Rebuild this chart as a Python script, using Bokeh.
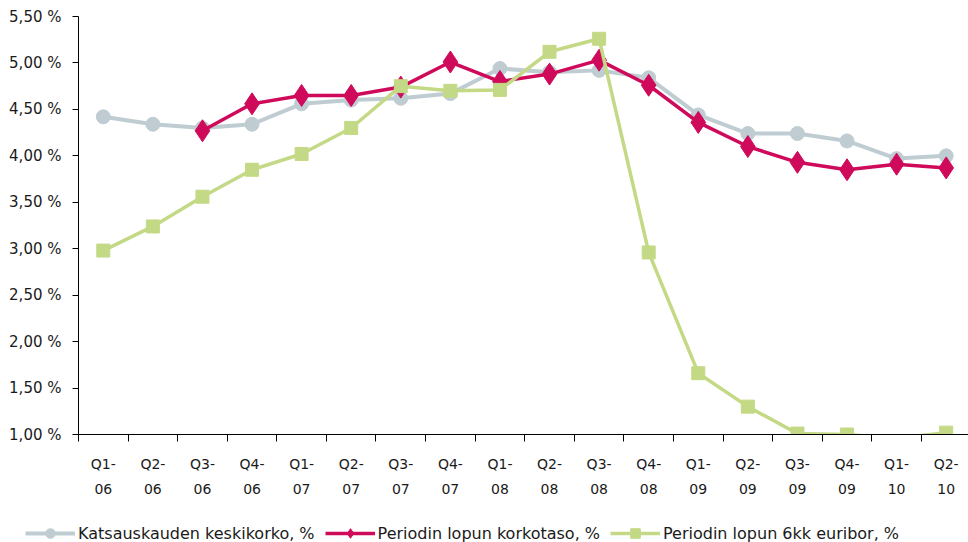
import numpy as np
from bokeh.plotting import figure
from bokeh.layouts import column
from bokeh.models import (ColumnDataSource, FixedTicker, Legend, LegendItem,
                          Range1d)
from bokeh.embed import file_html
from bokeh.resources import INLINE

# Quarterly interest rates, %
quarters = ["Q1-06", "Q2-06", "Q3-06", "Q4-06", "Q1-07", "Q2-07", "Q3-07", "Q4-07",
            "Q1-08", "Q2-08", "Q3-08", "Q4-08", "Q1-09", "Q2-09", "Q3-09", "Q4-09",
            "Q1-10", "Q2-10"]
avg_rate = [4.42, 4.34, 4.30, 4.34, 4.56, 4.60, 4.62, 4.67, 4.94, 4.90, 4.92, 4.84,
            4.44, 4.24, 4.24, 4.16, 3.97, 4.00]
end_rate = [np.nan, np.nan, 4.27, 4.56, 4.65, 4.65, 4.74, 5.01, 4.80, 4.88, 5.03, 4.76,
            4.36, 4.10, 3.93, 3.85, 3.91, 3.87]
euribor_6m = [2.98, 3.24, 3.56, 3.85, 4.02, 4.30, 4.75, 4.70, 4.71, 5.12, 5.26, 2.96,
              1.66, 1.30, 1.01, 1.00, 0.96, 1.02]
series_names = ["Katsauskauden keskikorko, %", "Periodin lopun korkotaso, %",
                "Periodin lopun 6kk euribor, %"]
y_ticks = [1.0, 1.5, 2.0, 2.5, 3.0, 3.5, 4.0, 4.5, 5.0, 5.5]
y_tick_labels = ["1,00 %", "1,50 %", "2,00 %", "2,50 %", "3,00 %", "3,50 %",
                 "4,00 %", "4,50 %", "5,00 %", "5,50 %"]

GREY = "#bfcdd3"
RED = "#cf0a5a"
GREEN = "#c4d985"
FONT = "DejaVu Sans"

x = np.arange(len(quarters)) + 0.5
Y_MIN, Y_MAX = y_ticks[0], y_ticks[-1]

src = ColumnDataSource(dict(x=x, avg=avg_rate, end=end_rate, eur=euribor_6m))
eur_arr = np.array(euribor_6m)
in_range = eur_arr >= Y_MIN
src_eur_pts = ColumnDataSource(dict(x=x[in_range], eur=eur_arr[in_range]))


def draw_series(fig):
    """Draw the three rate series; returns (line, marker) renderer pairs."""
    a = (fig.line("x", "avg", source=src, line_color=GREY, line_width=4),
         fig.scatter("x", "avg", source=src, marker="circle", size=14,
                     fill_color=GREY, line_color=GREY))
    e = (fig.line("x", "end", source=src, line_color=RED, line_width=3.5),
         fig.scatter("x", "end", source=src, marker="diamond", size=22,
                     fill_color=RED, line_color=RED))
    g = (fig.line("x", "eur", source=src, line_color=GREEN, line_width=3.5),
         fig.scatter("x", "eur", source=src_eur_pts, marker="square", size=13,
                     fill_color=GREEN, line_color=GREEN))
    return [a, e, g]


p = figure(width=968, height=506, output_backend="svg", toolbar_location=None,
           x_range=Range1d(0, 17.95), y_range=Range1d(Y_MIN, Y_MAX),
           min_border_left=78, min_border_right=0, min_border_top=16,
           min_border_bottom=72, outline_line_color=None,
           background_fill_color="white", border_fill_color="white")
p.frame_align = False
p.xgrid.visible = False
p.ygrid.visible = False

# y axis: percent labels with a decimal comma
p.yaxis.ticker = FixedTicker(ticks=y_ticks)
p.yaxis.major_label_overrides = {t: s for t, s in zip(y_ticks, y_tick_labels)}
p.yaxis.major_tick_out = 6
p.yaxis.major_tick_in = 0
p.yaxis.minor_tick_line_color = None
p.yaxis.major_label_standoff = 11
p.yaxis.axis_line_color = "black"
p.yaxis.major_tick_line_color = "black"
p.yaxis.major_label_text_font = FONT
p.yaxis.major_label_text_font_size = "15px"
p.yaxis.major_label_text_color = "#1a1a1a"

# x axis: labels at quarter centres, tick marks on the boundaries
p.xaxis.ticker = FixedTicker(ticks=list(x), minor_ticks=list(range(len(quarters) + 1)))
p.xaxis.major_label_overrides = {float(v): q.replace("-", "-\n") for v, q in zip(x, quarters)}
p.xaxis.major_tick_line_color = None
p.xaxis.major_tick_out = 7
p.xaxis.minor_tick_out = 7
p.xaxis.minor_tick_in = 0
p.xaxis.minor_tick_line_color = "black"
p.xaxis.axis_line_color = "black"
p.xaxis.major_label_standoff = 14
p.xaxis.axis_label_standoff = 0
p.xaxis.major_label_text_font = FONT
p.xaxis.major_label_text_font_size = "14px"
p.xaxis.major_label_text_color = "#1a1a1a"
p.xaxis.major_label_text_line_height = 1.6

draw_series(p)

# key strip under the chart: same series styles, data kept out of view
key = figure(width=968, height=36, output_backend="svg", toolbar_location=None,
             x_range=Range1d(-20, -19), y_range=Range1d(Y_MIN, Y_MAX),
             x_axis_location=None, y_axis_location=None,
             min_border=0, outline_line_color=None,
             background_fill_color="white", border_fill_color="white")
key.frame_align = False
key.xgrid.visible = False
key.ygrid.visible = False
key_renderers = draw_series(key)

legend = Legend(items=[LegendItem(label=name, renderers=list(rs))
                       for name, rs in zip(series_names, key_renderers)],
                orientation="horizontal", location=(25, -3), border_line_color=None,
                background_fill_alpha=0, label_text_font=FONT,
                label_text_font_size="16px", label_text_color="#1a1a1a",
                glyph_width=50, glyph_height=24, label_height=16,
                label_standoff=3, spacing=10, padding=0, margin=0)
key.add_layout(legend, "center")

layout = column(p, key, spacing=0)
open("out.html", "w").write(file_html(layout, INLINE))
